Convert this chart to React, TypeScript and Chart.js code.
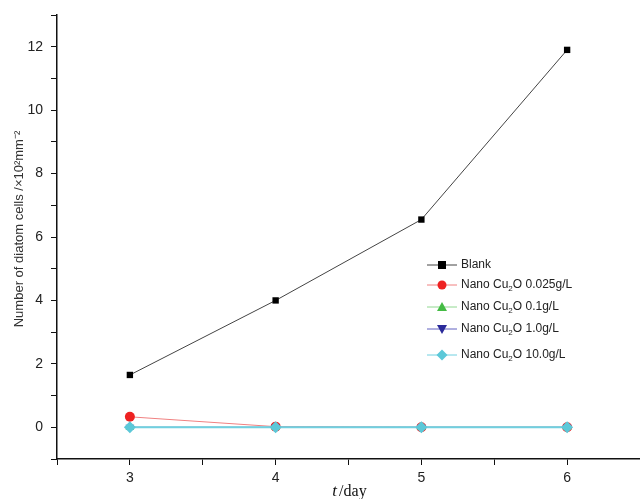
import React, { useEffect, useRef } from "react";
import { Chart, registerables } from "chart.js";

Chart.register(...registerables);

const days = [3, 4, 5, 6];
const blank = [1.65, 4.0, 6.55, 11.9];
const nano0025 = [0.33, 0.02, 0, 0];
const nano01 = [0, 0, 0, 0];
const nano10 = [0, 0, 0, 0];
const nano100 = [0, 0, 0, 0];

const seriesNames = ["Blank", "0.025g/L", "0.1g/L", "1.0g/L", "10.0g/L"];
const lineColors = ["#444444", "#f08080", "#90d890", "#6060c0", "#70d0e0"];
const markerColors = ["#000000", "#ee2222", "#44bb44", "#2a2a9a", "#5cc8d8"];
const markerStyles = ["rect", "circle", "triangle", "triangleDown", "rectRot"];

const toPts = (arr: number[]) => arr.map((v, i) => ({ x: days[i], y: v }));

const SANS = "'Liberation Sans', Arial, sans-serif";

function drawMarker(ctx: CanvasRenderingContext2D, style: string, x: number, y: number, color: string) {
  ctx.save();
  ctx.fillStyle = color;
  ctx.beginPath();
  if (style === "rect") {
    ctx.rect(x - 4, y - 4, 8, 8);
  } else if (style === "circle") {
    ctx.arc(x, y, 4.5, 0, Math.PI * 2);
  } else if (style === "triangle") {
    ctx.moveTo(x, y - 5);
    ctx.lineTo(x + 5, y + 4);
    ctx.lineTo(x - 5, y + 4);
    ctx.closePath();
  } else if (style === "triangleDown") {
    ctx.moveTo(x, y + 5);
    ctx.lineTo(x + 5, y - 4);
    ctx.lineTo(x - 5, y - 4);
    ctx.closePath();
  } else {
    ctx.moveTo(x, y - 5.5);
    ctx.lineTo(x + 5.5, y);
    ctx.lineTo(x, y + 5.5);
    ctx.lineTo(x - 5.5, y);
    ctx.closePath();
  }
  ctx.fill();
  ctx.restore();
}

const legendPlugin = {
  id: "customLegend",
  afterDraw(chart: any) {
    const ctx = chart.ctx as CanvasRenderingContext2D;
    const ys = [265, 285, 307, 329, 355];
    ctx.save();
    ctx.textBaseline = "middle";
    seriesNames.forEach((name, i) => {
      const y = ys[i];
      ctx.strokeStyle = lineColors[i];
      ctx.lineWidth = 1;
      ctx.beginPath();
      ctx.moveTo(427, y);
      ctx.lineTo(457, y);
      ctx.stroke();
      drawMarker(ctx, markerStyles[i], 442, y, markerColors[i]);
      ctx.fillStyle = "#222";
      ctx.font = `12px ${SANS}`;
      let x = 461;
      if (i === 0) {
        ctx.fillText(name, x, y);
      } else {
        const a = "Nano Cu";
        ctx.fillText(a, x, y);
        x += ctx.measureText(a).width;
        ctx.font = `8px ${SANS}`;
        ctx.fillText("2", x, y + 4);
        x += ctx.measureText("2").width;
        ctx.font = `12px ${SANS}`;
        ctx.fillText("O " + name, x, y);
      }
    });
    // y axis title
    ctx.save();
    ctx.translate(19, 229);
    ctx.rotate(-Math.PI / 2);
    ctx.textAlign = "center";
    ctx.textBaseline = "middle";
    ctx.fillStyle = "#333";
    ctx.font = `13px ${SANS}`;
    ctx.fillText("Number of diatom cells /×10²mm⁻²", 0, 0);
    ctx.restore();
    // x axis title
    const xa = chart.chartArea;
    const cx = (xa.left + xa.right) / 2;
    ctx.fillStyle = "#111";
    ctx.textBaseline = "alphabetic";
    ctx.font = "italic 17px 'Liberation Serif', serif";
    const t = "t";
    const rest = "/day";
    const tw = ctx.measureText(t).width;
    ctx.font = "16px 'Liberation Serif', serif";
    const rw = ctx.measureText(rest).width;
    const start = cx - (tw + rw) / 2;
    ctx.font = "italic 17px 'Liberation Serif', serif";
    ctx.fillText(t, start, 496);
    ctx.font = "16px 'Liberation Serif', serif";
    ctx.fillText(rest, start + tw + 2, 496);
    ctx.restore();
  },
};

export default function App() {
  const ref = useRef<HTMLCanvasElement | null>(null);
  useEffect(() => {
    if (!ref.current) return;
    const mk = (label: string, data: number[], i: number, width: number) => ({
      label,
      data: toPts(data),
      borderColor: lineColors[i],
      backgroundColor: markerColors[i],
      pointBackgroundColor: markerColors[i],
      pointBorderColor: markerColors[i],
      pointStyle: i === 3 ? "triangle" : markerStyles[i],
      rotation: i === 3 ? 180 : 0,
      pointRadius: i === 0 ? 4.5 : i === 4 ? 6 : 5,
      borderWidth: width,
      pointBorderWidth: 0,
    });
    const chart = new Chart(ref.current, {
      type: "line",
      data: {
        datasets: [
          mk("Nano Cu2O 10.0g/L", nano100, 4, 2),
          mk("Nano Cu2O 1.0g/L", nano10, 3, 1),
          mk("Nano Cu2O 0.1g/L", nano01, 2, 1),
          mk("Nano Cu2O 0.025g/L", nano0025, 1, 1),
          mk("Blank", blank, 0, 1),
        ] as any,
      },
      options: {
        animation: false,
        responsive: false,
        layout: { autoPadding: false, padding: { top: 15, right: 0, left: 0, bottom: 0 } },
        plugins: { legend: { display: false }, tooltip: { enabled: false } },
        scales: {
          x: {
            type: "linear",
            min: 2.5,
            max: 6.5,
            border: { color: "#111", width: 1.5 },
            grid: { drawOnChartArea: false, drawTicks: true, tickLength: 6, color: "#111" },
            ticks: {
              stepSize: 0.5,
              color: "#222",
              font: { size: 14, family: SANS },
              padding: 5,
              callback: (v: any) => (Number.isInteger(v) ? String(v) : ""),
            },
            afterFit: (s: any) => {
              s.height = 40;
              s.paddingLeft = 0;
              s.paddingRight = 0;
            },
          },
          y: {
            min: -1,
            max: 13,
            border: { color: "#111", width: 1.5 },
            grid: { drawOnChartArea: false, drawTicks: true, tickLength: 6, color: "#111" },
            ticks: {
              stepSize: 1,
              color: "#222",
              font: { size: 14, family: SANS },
              padding: 8,
              callback: (v: any) => (v % 2 === 0 ? String(v) : ""),
            },
            afterFit: (s: any) => {
              s.width = 57;
              s.paddingTop = 0;
              s.paddingBottom = 0;
            },
          },
        },
      },
      plugins: [legendPlugin],
    } as any);
    return () => chart.destroy();
  }, []);
  return (
    <div style={{ position: "fixed", left: 0, top: 0, width: 640, height: 499, background: "#fff" }}>
      <canvas ref={ref} width={640} height={499} style={{ width: 640, height: 499 }} />
    </div>
  );
}
